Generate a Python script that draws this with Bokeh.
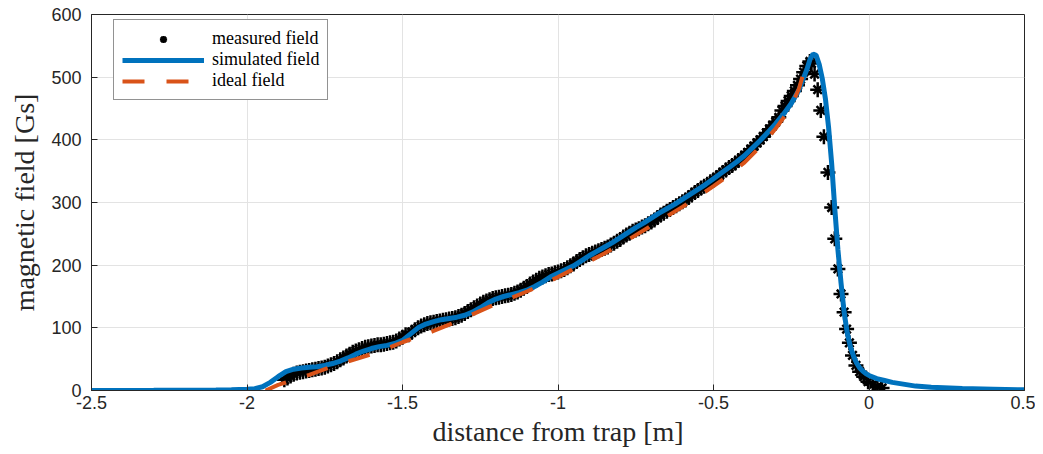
import numpy as np
from bokeh.plotting import figure
from bokeh.models import FixedTicker, Legend, LegendItem, Range1d
from bokeh.embed import file_html
from bokeh.resources import INLINE

# ---------------- data ----------------
x_ticks = [-2.5, -2.0, -1.5, -1.0, -0.5, 0.0, 0.5]
x_tick_labels = ["-2.5", "-2", "-1.5", "-1", "-0.5", "0", "0.5"]
y_ticks = [0, 100, 200, 300, 400, 500, 600]

sim_x = [-2.5, -2.3, -2.2, -2.1, -2.05, -2.0, -1.975, -1.95, -1.925, -1.9, -1.875, -1.85,
         -1.825, -1.8, -1.775, -1.75, -1.725, -1.7, -1.675, -1.65, -1.625, -1.6, -1.575,
         -1.55, -1.525, -1.5, -1.475, -1.45, -1.425, -1.4, -1.375, -1.35, -1.325, -1.3,
         -1.275, -1.25, -1.225, -1.2, -1.175, -1.15, -1.125, -1.1, -1.075, -1.05, -1.025,
         -1.0, -0.975, -0.95, -0.925, -0.9, -0.875, -0.85, -0.825, -0.8, -0.775, -0.75,
         -0.725, -0.7, -0.675, -0.65, -0.625, -0.6, -0.575, -0.55, -0.525, -0.5, -0.475,
         -0.45, -0.425, -0.4, -0.375, -0.35, -0.325, -0.3, -0.275, -0.25, -0.225, -0.2,
         -0.19, -0.18, -0.17, -0.16, -0.15, -0.14, -0.13, -0.12, -0.11, -0.10, -0.09,
         -0.08, -0.07, -0.06, -0.05, -0.04, -0.03, -0.02, -0.01, 0.0, 0.025, 0.05, 0.075,
         0.1, 0.15, 0.2, 0.3, 0.4, 0.5]
sim_y = [0, 0.3, 0.5, 0.9, 1.3, 2, 3, 6, 13, 22, 30, 34,
         36, 37, 38, 40, 43, 47, 52, 58, 63, 67, 70,
         72, 75, 80, 90, 100, 106, 110, 113, 115, 117, 120,
         125, 132, 140, 146, 150, 153, 156, 160, 166, 173, 181,
         187, 193, 199, 207, 215, 222, 229, 236, 244, 252, 260,
         267, 275, 283, 290, 297, 305, 313, 321, 329, 338, 347,
         356, 365, 375, 387, 399, 412, 426, 441, 458, 480, 512,
         528, 537, 535, 520, 497, 465, 420, 362, 290, 225, 172,
         125, 92, 70, 55, 44, 36, 31, 27, 24, 19, 16, 13,
         11, 7, 5, 3, 2, 1]

ideal_x = [-1.94, -1.9, -1.85, -1.8, -1.75, -1.7, -1.65, -1.6, -1.55, -1.5, -1.45, -1.4,
           -1.35, -1.3, -1.25, -1.2, -1.15, -1.1, -1.05, -1.0, -0.95, -0.9, -0.85, -0.8,
           -0.75, -0.7, -0.65, -0.6, -0.55, -0.5, -0.45, -0.4, -0.35, -0.3, -0.275, -0.25,
           -0.225, -0.2]
ideal_y = [0, 9, 17, 25, 34, 43, 50, 58, 67, 77, 86, 95,
           105, 116, 127, 138, 148, 158, 169, 181, 194, 206, 219, 233,
           248, 263, 278, 293, 309, 326, 344, 364, 389, 418, 435, 454,
           482, 525]

# measured field, sampled every 0.01 m from -1.88 m to -0.19 m
meas_x_rise = list(np.round(np.arange(-1.88, -0.185, 0.01), 2))
meas_y_rise = [17, 20, 23, 26, 28, 29, 30, 31, 32, 33,
               34, 35, 36, 37, 39, 41, 43, 46, 49, 52,
               55, 58, 61, 63, 65, 67, 69, 70, 71, 72,
               73, 73, 74, 75, 76, 77, 79, 82, 85, 89,
               89, 93, 97, 100, 103, 105, 107, 108, 109, 110,
               111, 112, 113, 114, 115, 116, 118, 120, 123, 126,
               129, 132, 135, 138, 141, 143, 145, 147, 148, 149,
               150, 151, 152, 153, 155, 157, 160, 163, 166, 170,
               173, 176, 179, 181, 183, 185, 186, 188, 189, 191,
               193, 196, 199, 202, 206, 209, 212, 215, 217, 219,
               221, 223, 225, 227, 229, 232, 235, 238, 241, 245,
               248, 251, 254, 256, 258, 261, 263, 266, 269, 272,
               276, 280, 283, 286, 289, 292, 295, 298, 301, 304,
               308, 312, 316, 319, 323, 326, 329, 333, 336, 340,
               344, 348, 352, 356, 359, 363, 367, 371, 375, 380,
               385, 390, 395, 400, 405, 411, 417, 423, 429, 436,
               447, 454, 462, 470, 478, 487, 497, 508, 518, 525]
meas_x_fall = [-0.185, -0.175, -0.165, -0.155, -0.145, -0.132, -0.12, -0.11, -0.10, -0.09,
               -0.08, -0.072, -0.063, -0.053, -0.042, -0.03, -0.017, -0.003, 0.012, 0.027, 0.042]
meas_y_fall = [522, 505, 480, 447, 405, 348, 292, 242, 194, 154,
               125, 98, 76, 56, 40, 30, 22, 14, 9, 6, 4]

meas_x = meas_x_rise + meas_x_fall
meas_y = meas_y_rise + meas_y_fall

BLUE = "#0072BD"
ORANGE = "#D95319"
AX = "#262626"

p = figure(width=1035, height=452, output_backend="svg", toolbar_location=None,
           x_range=Range1d(-2.5, 0.5), y_range=Range1d(0, 600),
           min_border_left=91, min_border_right=11, min_border_top=14, min_border_bottom=62)
p.background_fill_color = "white"
p.border_fill_color = "white"
p.outline_line_color = AX
p.outline_line_width = 1
p.outline_line_alpha = 1.0

# measured: 8-armed asterisk from + and x
r_m1 = p.scatter(meas_x, meas_y, marker="cross", size=15, line_color="black", line_width=2.5)
r_m2 = p.scatter(meas_x, meas_y, marker="x", size=12, line_color="black", line_width=2.5)
r_sim = p.line(sim_x, sim_y, line_color=BLUE, line_width=5)
r_ideal = p.line(ideal_x, ideal_y, line_color=ORANGE, line_width=4, line_dash="22 22")

xa = p.xaxis[0]
ya = p.yaxis[0]
for ax in (xa, ya):
    ax.axis_line_color = AX
    ax.major_tick_line_color = AX
    ax.major_tick_in = 6
    ax.major_tick_out = 0
    ax.minor_tick_line_color = None
    ax.major_label_text_color = AX
    ax.major_label_text_font = "Liberation Sans"
    ax.major_label_text_font_size = "18px"
    ax.axis_label_text_font = "Liberation Serif"
    ax.axis_label_text_font_style = "normal"
    ax.axis_label_text_font_size = "28px"
    ax.axis_label_text_color = AX

xa.ticker = FixedTicker(ticks=x_ticks)
xa.major_label_overrides = {t: l for t, l in zip(x_ticks, x_tick_labels)}
ya.ticker = FixedTicker(ticks=y_ticks)
xa.axis_label = "distance from trap [m]"
ya.axis_label = "magnetic field [Gs]"
xa.major_label_standoff = 5
xa.axis_label_standoff = 4
ya.major_label_standoff = 10
ya.axis_label_standoff = 8

p.xgrid.ticker = FixedTicker(ticks=x_ticks)
p.ygrid.ticker = FixedTicker(ticks=y_ticks)
p.grid.grid_line_color = "#e3e3e3"
p.grid.grid_line_width = 1

legend = Legend(items=[
    LegendItem(label="measured field", renderers=[r_m1, r_m2]),
    LegendItem(label="simulated field", renderers=[r_sim]),
    LegendItem(label="ideal field", renderers=[r_ideal]),
], location=(22, 290))
legend.label_text_font = "Liberation Serif"
legend.label_text_font_size = "18px"
legend.label_text_color = "black"
legend.glyph_width = 82
legend.glyph_height = 18
legend.label_height = 18
legend.label_standoff = 8
legend.spacing = 0
legend.padding = 8
legend.margin = 0
legend.border_line_color = AX
legend.border_line_width = 1
legend.background_fill_color = "white"
legend.background_fill_alpha = 1.0
p.add_layout(legend, "center")

open("out.html", "w").write(file_html(p, INLINE))
